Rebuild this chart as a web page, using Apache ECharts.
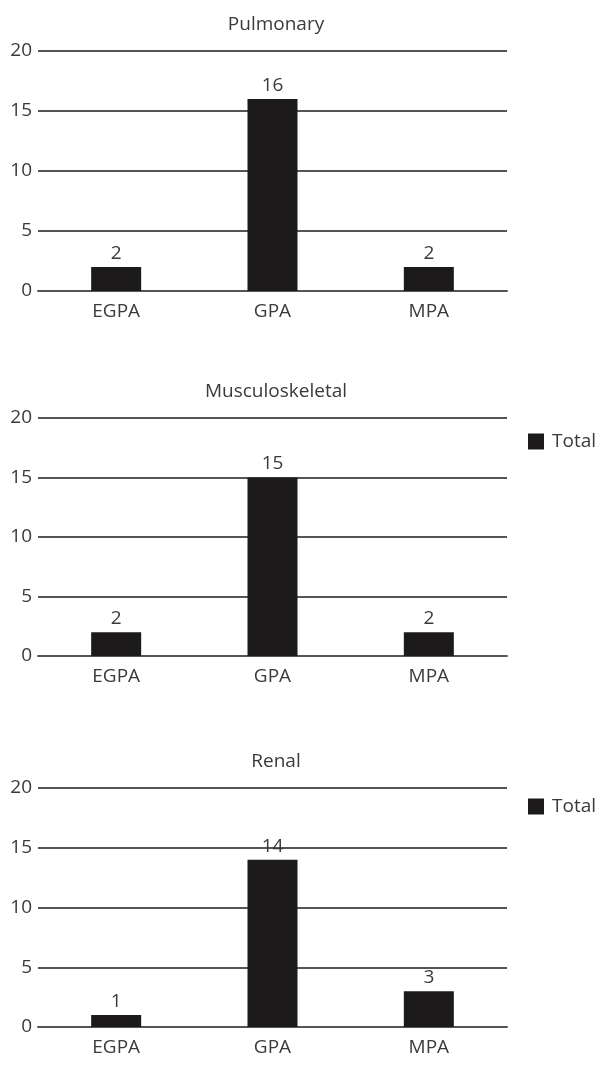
<!DOCTYPE html>
<html>
<head>
<meta charset="utf-8">
<script src="https://cdn.jsdelivr.net/npm/echarts@6/dist/echarts.min.js"></script>
<style>
  html, body { margin: 0; padding: 0; background: #ffffff; }
  #chart { width: 597px; height: 1066px; }
</style>
</head>
<body>
<div id="chart"></div>
<script>
// Vasculitis subtypes by organ involvement
const categories = ['EGPA', 'GPA', 'MPA'];
const panelTitles = ['Pulmonary', 'Musculoskeletal', 'Renal'];
const pulmonary = [2, 16, 2];
const musculoskeletal = [2, 15, 2];
const renal = [1, 14, 3];
const yTicks = [0, 5, 10, 15, 20];

const panelData = [pulmonary, musculoskeletal, renal];
const FONT = '"Open Sans", "Noto Sans", sans-serif';
const FS = 19;
const TEXT = '#3a3a3a';
const LINE = '#555555';

// layout of each panel: top of plot area and its height
const gridTops = [51, 418, 788];
const gridHeights = [240, 238, 239];

const grids = [], xAxes = [], yAxes = [], series = [], titles = [];
panelData.forEach((vals, i) => {
  grids.push({ left: 38, right: 90, top: gridTops[i], height: gridHeights[i] });
  titles.push({
    text: panelTitles[i],
    left: 271, top: gridTops[i] - 41, textAlign: 'center',
    textStyle: { fontFamily: FONT, fontSize: FS, fontWeight: 'normal', color: TEXT }
  });
  xAxes.push({
    type: 'category', gridIndex: i, data: categories,
    axisLine: { lineStyle: { color: LINE, width: 2 } },
    axisTick: { show: false },
    axisLabel: { fontFamily: FONT, fontSize: FS, color: TEXT, margin: 11 }
  });
  yAxes.push({
    type: 'value', gridIndex: i, min: yTicks[0], max: yTicks[yTicks.length - 1], interval: 5,
    axisLine: { show: false },
    axisTick: { show: false },
    axisLabel: { fontFamily: FONT, fontSize: FS, color: TEXT, margin: 6, padding: [5, 0, 0, 0] },
    splitLine: { lineStyle: { color: LINE, width: 2 } }
  });
  series.push({
    name: 'Total', type: 'bar', xAxisIndex: i, yAxisIndex: i,
    data: vals, barWidth: 50,
    itemStyle: { color: '#1c1a1a' },
    label: { show: true, position: 'top', distance: 4, fontFamily: FONT, fontSize: FS, color: TEXT }
  });
});

const legendStyle = (top) => ({
  data: ['Total'], left: 523, top: top, orient: 'vertical',
  icon: 'rect', itemWidth: 16, itemHeight: 16, itemGap: 6,
  textStyle: { fontFamily: FONT, fontSize: FS, color: TEXT, padding: [0, 0, 0, 3] }
});

const chart = echarts.init(document.getElementById('chart'), null, { renderer: 'canvas' });
chart.setOption({
  animation: false,
  backgroundColor: '#ffffff',
  title: titles,
  legend: [legendStyle(427), legendStyle(792)],
  grid: grids,
  xAxis: xAxes,
  yAxis: yAxes,
  series: series
});
</script>
</body>
</html>
